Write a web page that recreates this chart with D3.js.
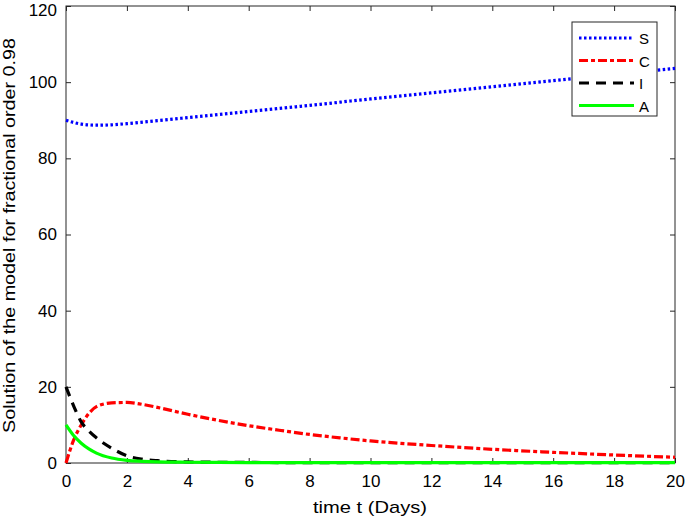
<!DOCTYPE html>
<html><head><meta charset="utf-8">
<script src="https://cdn.jsdelivr.net/npm/d3@7"></script>
<style>
body{margin:0;background:#fff;}
text{font-family:"Liberation Sans",Arial,sans-serif;}
</style></head>
<body><svg id="c" width="685" height="520"></svg>
<script>
const tS = [0,0.5,1,1.5,2,3,4,5,6,8,10,12,14,16,18,20];
const valS = [90,89.0,88.7,88.8,89.1,89.9,90.7,91.5,92.3,93.9,95.6,97.2,98.8,100.4,102.0,103.6];
const tC = [0,0.25,0.5,0.75,1,1.5,2,2.5,3,4,5,6,7,8,9,10,12,14,16,18,20];
const valC = [0,6,10,13,14.8,15.8,15.9,15.4,14.6,12.8,11.2,9.8,8.6,7.5,6.6,5.8,4.6,3.6,2.8,2.1,1.5];
const tI = [0,0.25,0.5,0.75,1,1.5,2,2.5,3,4,5,6,8,10,12,14,16,18,20];
const valI = [20,15,10.8,8.4,6.6,3.9,1.9,1.0,0.6,0.3,0.2,0.15,0.1,0.1,0.1,0.1,0.1,0.1,0.1];
const tA = [0,0.25,0.5,0.75,1,1.5,2,2.5,3,4,5,6,8,10,12,14,16,18,20];
const valA = [10,7.2,5.2,3.7,2.6,1.3,0.7,0.45,0.3,0.2,0.15,0.12,0.1,0.1,0.1,0.1,0.1,0.1,0.1];
const xTicks = [0,2,4,6,8,10,12,14,16,18,20];
const yTicks = [0,20,40,60,80,100,120];
const seriesNames = ["S","C","I","A"];
const seriesColors = ["#0000ff","#ff0000","#000000","#00ff00"];
const seriesDash = ["2.5,2.5","9,3,4,3","10,7",null];

const svg = d3.select("#c");
const L=66,R=675,T=6,B=463;
const x = d3.scaleLinear().domain([0,20]).range([L,R]);
const y = d3.scaleLinear().domain([0,120]).range([B,T]);

svg.append("rect").attr("x",L).attr("y",T).attr("width",R-L).attr("height",B-T)
  .attr("fill","none").attr("stroke","#262626").attr("stroke-width",1);

const xa = svg.append("g").attr("transform",`translate(0,${B})`)
  .call(d3.axisBottom(x).tickValues(xTicks).tickSizeInner(-5).tickSizeOuter(0).tickPadding(12));
const xt = svg.append("g").attr("transform",`translate(0,${T})`)
  .call(d3.axisTop(x).tickValues(xTicks).tickSizeInner(-5).tickSizeOuter(0).tickFormat(""));
const ya = svg.append("g").attr("transform",`translate(${L},0)`)
  .call(d3.axisLeft(y).tickValues(yTicks).tickSizeInner(-5).tickSizeOuter(0).tickPadding(9));
const yr = svg.append("g").attr("transform",`translate(${R},0)`)
  .call(d3.axisRight(y).tickValues(yTicks).tickSizeInner(-5).tickSizeOuter(0).tickFormat(""));
[xa,xt,ya,yr].forEach(g=>{
  g.select(".domain").remove();
  g.selectAll("line").attr("stroke","#262626");
  g.selectAll("text").attr("font-size",17).attr("fill","#000").attr("font-family","Liberation Sans, Arial, sans-serif");
});
// keep the top label inside the picture
ya.selectAll(".tick").filter(d=>d===120).select("text").attr("dy","0.55em");

svg.append("text").attr("x",370).attr("y",513).attr("text-anchor","middle")
  .attr("font-size",17).attr("textLength",114).attr("lengthAdjust","spacingAndGlyphs").text("time t (Days)");
svg.append("text").attr("transform",`translate(15,235.5) rotate(-90)`).attr("text-anchor","middle")
  .attr("font-size",17).attr("textLength",395).attr("lengthAdjust","spacingAndGlyphs")
  .text("Solution of the model for fractional order 0.98");

const data = [[tS,valS],[tC,valC],[tI,valI],[tA,valA]];
const line = d3.line().x(d=>x(d[0])).y(d=>y(d[1])).curve(d3.curveMonotoneX);
[1,2,3,0].forEach(i=>{
  const pts = data[i][0].map((t,j)=>[t,data[i][1][j]]);
  const p = svg.append("path").attr("d",line(pts)).attr("fill","none")
    .attr("stroke",seriesColors[i]).attr("stroke-width",3.2);
  if(seriesDash[i]) p.attr("stroke-dasharray",seriesDash[i]);
});

const lg = svg.append("g");
lg.append("rect").attr("x",572).attr("y",22).attr("width",85).attr("height",94)
  .attr("fill","#fff").attr("stroke","#262626").attr("stroke-width",1);
seriesNames.forEach((n,i)=>{
  const yy = 38 + i*22.5;
  const l = lg.append("line").attr("x1",579).attr("x2",634).attr("y1",yy).attr("y2",yy)
    .attr("stroke",seriesColors[i]).attr("stroke-width",3.2);
  if(seriesDash[i]) l.attr("stroke-dasharray",seriesDash[i]);
  lg.append("text").attr("x",639).attr("y",yy+6).attr("font-size",15).text(n);
});
</script></body></html>
